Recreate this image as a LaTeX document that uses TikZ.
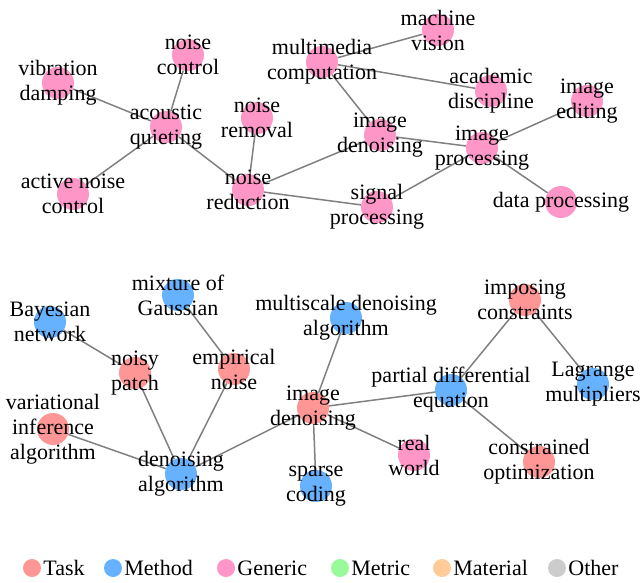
\documentclass[tikz,border=0pt]{standalone}
\usepackage{fontspec}
\setmainfont{Liberation Serif}
\usetikzlibrary{backgrounds}
\definecolor{taskc}{RGB}{255,150,150}
\definecolor{methodc}{RGB}{102,178,255}
\definecolor{genericc}{RGB}{255,150,200}
\definecolor{metricc}{RGB}{153,250,153}
\definecolor{materialc}{RGB}{255,204,153}
\definecolor{otherc}{RGB}{204,204,204}

\begin{document}
\begin{tikzpicture}[x=1pt, y=-1pt,
    ent/.style={circle, minimum size=32pt, inner sep=0pt},
    task/.style={ent, fill=taskc},
    method/.style={ent, fill=methodc},
    generic/.style={ent, fill=genericc},
    lbl/.style={font=\fontsize{22}{25}\selectfont, align=center, inner sep=0pt},
    keylbl/.style={lbl, inner sep=2pt},
    key/.style={circle, minimum size=18pt, inner sep=0pt},
    link/.style={draw=gray, line width=1.5pt}]
      \useasboundingbox (0,0) rectangle (641,582);

      \node[generic, label={[lbl]center:{noise\\control}}] (nc) at (188,55) {};
      \node[generic, label={[lbl]center:{vibration\\damping}}] (vd) at (58,83) {};
      \node[generic, label={[lbl]center:{acoustic\\quieting}}] (aq) at (166,127) {};
      \node[generic, label={[lbl]center:{active noise\\control}}] (anc) at (73,194) {};
      \node[generic, label={[lbl]center:{noise\\removal}}] (nrm) at (257,118) {};
      \node[generic, label={[lbl]center:{noise\\reduction}}] (nrd) at (248,190) {};
      \node[generic, label={[lbl]center:{multimedia\\computation}}] (mmc) at (322,62) {};
      \node[generic, label={[lbl]center:{machine\\vision}}] (mv) at (438,30) {};
      \node[generic, label={[lbl]center:{academic\\discipline}}] (ad) at (491,91) {};
      \node[generic, label={[lbl]center:{image\\editing}}] (ie) at (587,101) {};
      \node[generic, label={[lbl]center:{image\\denoising}}] (idt) at (380,135) {};
      \node[generic, label={[lbl]center:{image\\processing}}] (ip) at (482,148) {};
      \node[generic, label={[lbl]center:{data processing}}] (dp) at (561,202) {};
      \node[generic, label={[lbl]center:{signal\\processing}}] (sp) at (377,207) {};

      \node[method, label={[lbl]center:{mixture of\\Gaussian}}] (mog) at (178,295) {};
      \node[method, label={[lbl]center:{Bayesian\\network}}] (bn) at (50,322) {};
      \node[task, label={[lbl]center:{noisy\\patch}}] (np) at (135,373) {};
      \node[task, label={[lbl]center:{empirical\\noise}}] (en) at (234,369) {};
      \node[method, label={[lbl]center:{multiscale denoising\\algorithm}}] (mda) at (346,318) {};
      \node[task, label={[lbl]center:{image\\denoising}}] (idb) at (313,408) {};
      \node[task, label={[lbl]center:{variational\\inference\\algorithm}}] (via) at (53,429) {};
      \node[method, label={[lbl]center:{denoising\\algorithm}}] (da) at (181,474) {};
      \node[method, label={[lbl]center:{sparse\\coding}}] (sc) at (316,486) {};
      \node[generic, label={[lbl]center:{real\\world}}] (rw) at (414,455) {};
      \node[method, label={[lbl]center:{partial differential\\equation}}] (pde) at (451,390) {};
      \node[task, label={[lbl]center:{imposing\\constraints}}] (ic) at (525,300) {};
      \node[method, label={[lbl]center:{Lagrange\\multipliers}}] (lm) at (593,384) {};
      \node[task, label={[lbl]center:{constrained\\optimization}}] (co) at (539,462) {};

      \begin{scope}[on background layer]
        \draw[link] (nc) -- (aq);
        \draw[link] (vd) -- (aq);
        \draw[link] (aq) -- (anc);
        \draw[link] (aq) -- (nrd);
        \draw[link] (nrm) -- (nrd);
        \draw[link] (nrd) -- (idt);
        \draw[link] (nrd) -- (sp);
        \draw[link] (mmc) -- (mv);
        \draw[link] (mmc) -- (ad);
        \draw[link] (mmc) -- (idt);
        \draw[link] (idt) -- (ip);
        \draw[link] (ip) -- (ie);
        \draw[link] (ip) -- (dp);
        \draw[link] (sp) -- (ip);

        \draw[link] (bn) -- (np);
        \draw[link] (mog) -- (en);
        \draw[link] (np) -- (da);
        \draw[link] (en) -- (da);
        \draw[link] (via) -- (da);
        \draw[link] (da) -- (idb);
        \draw[link] (idb) -- (mda);
        \draw[link] (idb) -- (sc);
        \draw[link] (idb) -- (rw);
        \draw[link] (idb) -- (pde);
        \draw[link] (pde) -- (ic);
        \draw[link] (pde) -- (co);
        \draw[link] (ic) -- (lm);
      \end{scope}

      \node[key, fill=taskc, label={[keylbl]east:Task}] (k1) at (32,568) {};
      \node[key, fill=methodc, label={[keylbl]east:Method}] (k2) at (113,568) {};
      \node[key, fill=genericc, label={[keylbl]east:Generic}] (k3) at (226,568) {};
      \node[key, fill=metricc, label={[keylbl]east:Metric}] (k4) at (340,568) {};
      \node[key, fill=materialc, label={[keylbl]east:Material}] (k5) at (442,568) {};
      \node[key, fill=otherc, label={[keylbl]east:Other}] (k6) at (557,568) {};
    \end{tikzpicture}
\end{document}
